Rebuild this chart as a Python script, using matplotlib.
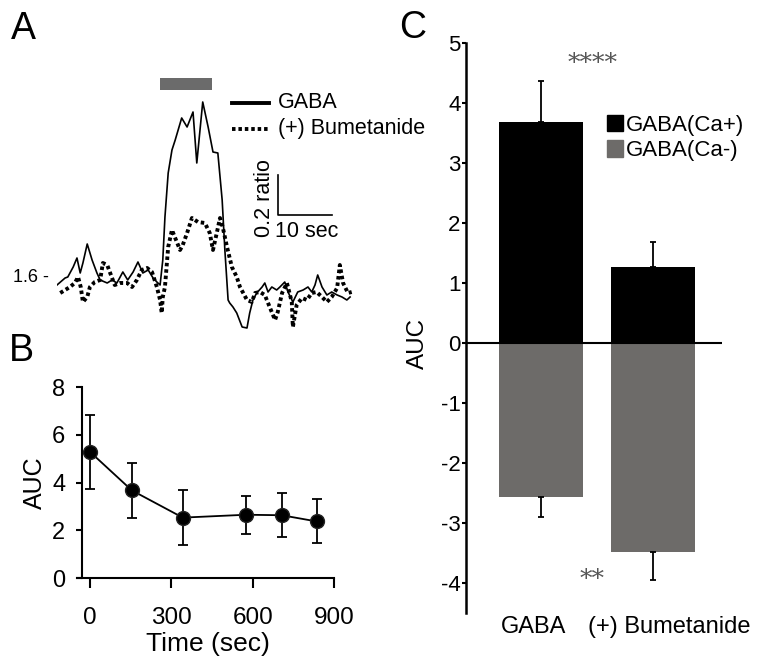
import numpy as np
import matplotlib
matplotlib.use('Agg')
import matplotlib.pyplot as plt
import matplotlib.transforms as mtransforms

plt.rcParams['font.family'] = ['Liberation Sans', 'DejaVu Sans']
plt.rcParams['axes.unicode_minus'] = False

# panel A: ratio traces (time in sec, ratio)
gaba_t = [0.0, 1.5, 2.0, 3.0, 3.7, 4.3, 4.8, 5.6, 6.5, 7.4, 8.0, 9.3, 10.2, 11.1, 12.2,
          13.1, 14.1, 15.0, 15.9, 16.9, 17.8, 18.5, 19.1, 19.6, 20.0, 20.6, 21.3, 21.9,
          23.1, 24.1, 25.2, 25.9, 27.0, 28.0, 28.9, 29.8, 30.6, 31.1, 31.7, 32.0, 32.6,
          33.3, 34.3, 35.2, 35.7, 36.3, 37.0, 38.0, 38.5, 39.1, 39.8, 40.7, 41.3, 42.2,
          42.8, 43.7, 44.6, 45.6, 46.5, 47.2, 47.8, 48.3, 49.1, 50.0, 50.9, 51.9, 52.8,
          53.7, 54.3]
gaba_r = [1.565, 1.60, 1.605, 1.655, 1.70, 1.625, 1.675, 1.77, 1.69, 1.625, 1.59, 1.575,
          1.59, 1.575, 1.63, 1.59, 1.63, 1.68, 1.625, 1.64, 1.60, 1.58, 1.565, 1.69, 1.905,
          2.125, 2.24, 2.29, 2.40, 2.355, 2.43, 2.175, 2.48, 2.355, 2.23, 2.225, 1.99, 1.74,
          1.49, 1.475, 1.455, 1.425, 1.355, 1.35, 1.425, 1.49, 1.525, 1.555, 1.575, 1.53,
          1.555, 1.54, 1.555, 1.58, 1.53, 1.48, 1.53, 1.54, 1.555, 1.53, 1.565, 1.615,
          1.555, 1.515, 1.53, 1.515, 1.505, 1.49, 1.505]
bume_t = [0.6, 1.5, 2.4, 3.3, 3.9, 4.4, 4.8, 5.6, 6.1, 7.0, 8.0, 8.5, 9.3, 10.2, 10.7,
          11.7, 13.0, 13.9, 14.8, 15.7, 16.7, 17.6, 18.5, 19.1, 19.4, 19.6, 20.0, 20.6,
          21.3, 21.9, 22.8, 23.3, 24.1, 25.0, 26.1, 27.4, 28.3, 28.9, 29.6, 30.2, 30.7,
          31.5, 32.4, 33.3, 33.9, 35.2, 36.1, 36.7, 37.6, 38.5, 39.4, 40.4, 40.9, 41.7,
          42.6, 43.5, 43.7, 44.4, 45.4, 46.3, 47.2, 48.1, 49.1, 50.0, 50.9, 51.9, 52.4,
          53.0, 53.9, 54.6]
bume_r = [1.525, 1.54, 1.555, 1.575, 1.605, 1.555, 1.48, 1.505, 1.555, 1.58, 1.59, 1.675,
          1.665, 1.60, 1.565, 1.575, 1.575, 1.555, 1.59, 1.64, 1.65, 1.63, 1.555, 1.49,
          1.425, 1.505, 1.555, 1.755, 1.84, 1.80, 1.74, 1.765, 1.825, 1.90, 1.88, 1.875,
          1.825, 1.74, 1.825, 1.90, 1.855, 1.755, 1.655, 1.605, 1.555, 1.49, 1.48, 1.525,
          1.53, 1.515, 1.455, 1.39, 1.43, 1.525, 1.575, 1.48, 1.355, 1.465, 1.50, 1.49,
          1.525, 1.53, 1.505, 1.48, 1.505, 1.55, 1.665, 1.575, 1.525, 1.53]
stim_start, stim_end = 19.1, 28.7

# panel B: AUC over time
b_time = [0, 154, 342, 575, 707, 836]
b_auc = [5.28, 3.67, 2.53, 2.65, 2.63, 2.37]
b_err = [1.55, 1.16, 1.14, 0.79, 0.92, 0.92]

# panel C: AUC bars
c_groups = ['GABA', '(+) Bumetanide']
c_pos = [3.69, 1.27]
c_pos_err = [0.68, 0.42]
c_neg = [-2.57, -3.48]
c_neg_err = [0.33, 0.47]

black = '#000000'
gray = '#6d6b69'
dots = (0, (0.9, 0.75))

fig = plt.figure(figsize=(7.62, 6.66), dpi=100)

# ---- panel A
axA = fig.add_axes([0.0748, 0.4895, 0.391, 0.4054])
axA.set_xlim(0, 55.2)
axA.set_ylim(1.29, 2.64)
axA.axis('off')
axA.plot(gaba_t, gaba_r, color=black, lw=1.2)
axA.plot(bume_t, bume_r, color=black, lw=2.8, linestyle=dots)
axA.add_patch(plt.Rectangle((stim_start, 2.54), stim_end - stim_start, 0.06,
                            color='#6b6b6b', lw=0))
# legend
axA.plot([32.4, 39.3], [2.475, 2.475], color=black, lw=2.8, clip_on=False)
axA.plot([32.4, 39.3], [2.345, 2.345], color=black, lw=2.8, linestyle=dots,
         clip_on=False)
axA.text(40.9, 2.475, 'GABA', fontsize=15.5, va='center', clip_on=False)
axA.text(40.9, 2.345, '(+) Bumetanide', fontsize=15.5, va='center', clip_on=False)
# scale bar
axA.plot([40.9, 40.9, 50.9], [2.115, 1.915, 1.915], color=black, lw=1.2)
axA.text(38.5, 2.0, '0.2 ratio', rotation=90, fontsize=15.5, ha='center', va='center')
axA.text(40.3, 1.83, '10 sec', fontsize=15.5, ha='left', va='center')
axA.text(-1.5, 1.6, '1.6 -', fontsize=13, ha='right', va='center', clip_on=False)

# ---- panel B
axB = fig.add_axes([0.1076, 0.1321, 0.3307, 0.2868])
axB.errorbar(b_time, b_auc, yerr=b_err, color=black, lw=1.3, marker='o', ms=10,
             mfc=black, mec='#222222', ecolor=black, elinewidth=1.3, capsize=3.5,
             capthick=1.3)
axB.set_xlim(-30, 900)
axB.set_ylim(0, 8)
axB.set_xticks([0, 300, 600, 900])
axB.set_yticks([0, 2, 4, 6, 8])
axB.spines['top'].set_visible(False)
axB.spines['right'].set_visible(False)
axB.spines['left'].set_linewidth(1.5)
axB.spines['bottom'].set_linewidth(1.5)
axB.spines['bottom'].set_bounds(-50, 900)
axB.tick_params(axis='x', length=7, width=1.5, pad=14, labelsize=17.5)
axB.tick_params(axis='y', length=4, width=1.5, pad=8, labelsize=17)
axB.set_xlabel('Time (sec)', fontsize=19, labelpad=2)
axB.set_ylabel('AUC', fontsize=18, labelpad=4)

# ---- panel C
axC = fig.add_axes([0.6115, 0.0796, 0.336, 0.856])
x = np.arange(len(c_groups))
axC.bar(x, c_pos, width=0.753, color=black)
axC.bar(x, c_neg, width=0.753, color=gray)
axC.errorbar(x, c_pos, yerr=[np.zeros(len(x)), c_pos_err], fmt='none', ecolor=black,
             elinewidth=1.3, capsize=2.5, capthick=1.3)
axC.errorbar(x, c_neg, yerr=[c_neg_err, np.zeros(len(x))], fmt='none', ecolor=black,
             elinewidth=1.3, capsize=2.5, capthick=1.3)
axC.set_xlim(-0.673, 1.623)
axC.set_ylim(-4.5, 5)
axC.axhline(0, color=black, lw=1.5)
for s in ['top', 'right', 'bottom']:
    axC.spines[s].set_visible(False)
axC.spines['left'].set_linewidth(1.8)
axC.set_xticks([])
axC.set_yticks(range(-4, 6))
axC.tick_params(axis='y', length=3, width=1.5, pad=1, labelsize=16)
trans = mtransforms.blended_transform_factory(axC.transData, axC.transAxes)
axC.text(-0.07, -0.005, c_groups[0], transform=trans, fontsize=17, ha='center', va='top')
axC.text(1.15, -0.005, c_groups[1], transform=trans, fontsize=17, ha='center', va='top')
axC.text(0.46, 4.66, '****', fontsize=18, color='#555555', ha='center', va='center',
         family='DejaVu Serif')
axC.text(0.46, -3.95, '**', fontsize=18, color='#555555', ha='center', va='center',
         family='DejaVu Serif')
fig.text(0.548, 1 - 343 / 666, 'AUC', rotation=90, fontsize=17.5, ha='center',
         va='center')
# legend
axC.legend(handles=[plt.Rectangle((0, 0), 1, 1, color=black),
                    plt.Rectangle((0, 0), 1, 1, color=gray)],
           labels=['GABA(Ca+)', 'GABA(Ca-)'], loc='upper left',
           bbox_to_anchor=(0.55, 0.874), frameon=False, fontsize=16,
           handlelength=0.75, handleheight=0.75, handletextpad=0.1, labelspacing=0.2,
           borderpad=0, borderaxespad=0)

# panel letters
fig.text(11 / 762, 1 - 39 / 666, 'A', fontsize=27)
fig.text(9 / 762, 1 - 361 / 666, 'B', fontsize=27)
fig.text(399 / 762, 1 - 38 / 666, 'C', fontsize=27)

fig.savefig('out.png', dpi=100)
